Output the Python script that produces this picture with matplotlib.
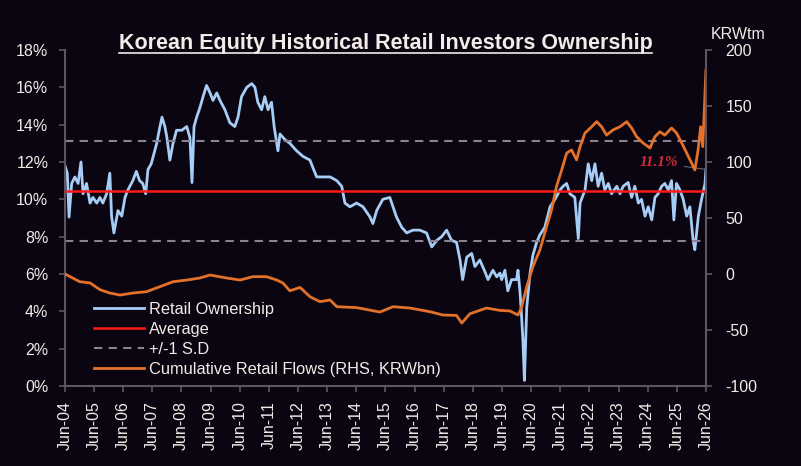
import matplotlib
matplotlib.use('Agg')
import matplotlib.pyplot as plt
from matplotlib.lines import Line2D

# ===== DATA =====
# retail ownership (% of market); x in decimal years
own_x = [2004.50, 2004.58, 2004.64, 2004.73, 2004.84, 2004.95, 2005.05, 2005.12, 2005.24, 2005.36,
         2005.46, 2005.59, 2005.70, 2005.80, 2005.93, 2006.04, 2006.10, 2006.18, 2006.32, 2006.45,
         2006.56, 2006.66, 2006.83, 2006.95, 2007.06, 2007.17, 2007.27, 2007.35, 2007.46, 2007.58,
         2007.65, 2007.76, 2007.83, 2007.93, 2008.00, 2008.10, 2008.21, 2008.33, 2008.51, 2008.68,
         2008.79, 2008.86, 2008.93, 2009.02, 2009.13, 2009.24, 2009.36, 2009.48, 2009.58, 2009.71,
         2009.82, 2009.99, 2010.16, 2010.33, 2010.44, 2010.56, 2010.74, 2010.91, 2011.02, 2011.12,
         2011.25, 2011.36, 2011.47, 2011.59, 2011.68, 2011.77, 2011.81, 2011.88, 2012.05, 2012.22,
         2012.45, 2012.67, 2012.91, 2013.01, 2013.14, 2013.35, 2013.60, 2013.83, 2014.00, 2014.11,
         2014.28, 2014.51, 2014.73, 2014.97, 2015.07, 2015.20, 2015.41, 2015.65, 2015.76, 2015.88,
         2016.06, 2016.23, 2016.44, 2016.68, 2016.91, 2017.09, 2017.26, 2017.43, 2017.60, 2017.77,
         2017.94, 2018.06, 2018.15, 2018.29, 2018.46, 2018.57, 2018.74, 2018.92, 2019.02, 2019.19,
         2019.32, 2019.43, 2019.49, 2019.60, 2019.70, 2019.83, 2020.00, 2020.05, 2020.12, 2020.17,
         2020.22, 2020.27, 2020.35, 2020.46, 2020.56, 2020.69, 2020.80, 2020.97, 2021.15, 2021.32,
         2021.49, 2021.60, 2021.72, 2021.83, 2022.00, 2022.12, 2022.18, 2022.35, 2022.46, 2022.58,
         2022.69, 2022.80, 2022.92, 2023.03, 2023.15, 2023.26, 2023.44, 2023.55, 2023.66, 2023.83,
         2023.95, 2024.06, 2024.18, 2024.29, 2024.41, 2024.52, 2024.64, 2024.75, 2024.86, 2024.98,
         2025.09, 2025.21, 2025.32, 2025.40, 2025.49, 2025.61, 2025.72, 2025.84, 2025.95, 2026.06,
         2026.12, 2026.24, 2026.35, 2026.47, 2026.50]
own_pct = [11.8, 11.4, 9.05, 10.85, 11.2, 10.85, 12.0, 10.3, 10.85, 9.8,
           10.1, 9.8, 10.1, 9.8, 10.3, 11.4, 9.1, 8.2, 9.4, 9.1,
           10.1, 10.5, 11.0, 11.5, 11.0, 10.85, 10.3, 11.6, 11.9, 12.6,
           13.0, 13.9, 14.4, 13.9, 13.3, 12.1, 13.0, 13.7, 13.7, 13.9,
           13.3, 10.9, 13.9, 14.4, 14.9, 15.5, 16.1, 15.7, 15.3, 15.7,
           15.3, 14.8, 14.1, 13.9, 14.4, 15.5, 16.0, 16.2, 16.0, 15.2,
           14.8, 15.5, 14.8, 15.2, 13.9, 13.0, 12.6, 13.5, 13.2, 13.0,
           12.6, 12.3, 12.1, 11.7, 11.2, 11.2, 11.2, 11.0, 10.7, 9.8,
           9.6, 9.8, 9.6, 9.05, 8.7, 9.4, 10.0, 10.1, 9.6, 9.05,
           8.5, 8.2, 8.35, 8.35, 8.2, 7.45, 7.8, 8.0, 8.35, 7.8,
           7.7, 6.75, 5.7, 6.9, 7.1, 6.4, 6.75, 6.1, 5.7, 6.2,
           5.85, 6.05, 5.7, 6.2, 5.1, 5.7, 5.7, 6.2, 5.0, 3.8,
           2.4, 0.3, 4.2, 6.0, 7.0, 7.7, 8.1, 8.5, 9.6, 10.0,
           10.5, 10.7, 10.85, 10.3, 10.1, 7.9, 9.8, 10.5, 11.9, 11.0,
           11.9, 10.7, 11.4, 10.5, 10.85, 10.3, 10.7, 10.3, 10.7, 10.9,
           10.1, 10.7, 9.8, 10.0, 9.1, 9.6, 8.9, 10.1, 10.3, 10.7,
           10.85, 10.5, 11.0, 8.9, 10.85, 10.5, 10.0, 9.1, 9.6, 7.8,
           7.3, 9.1, 10.0, 10.85, 11.6]

avg_pct = 10.45
sd_pct = 2.67

# cumulative retail flows (KRWtm, RHS)
flow_x = [2004.50, 2005.01, 2005.36, 2005.70, 2006.04, 2006.39, 2006.83, 2007.30, 2007.76, 2008.21,
          2008.68, 2009.13, 2009.48, 2010.05, 2010.51, 2010.95, 2011.42, 2011.77, 2011.98, 2012.22,
          2012.57, 2012.91, 2013.25, 2013.60, 2013.83, 2014.51, 2015.31, 2015.76, 2016.34, 2017.03,
          2017.47, 2017.94, 2018.12, 2018.40, 2018.97, 2019.43, 2019.77, 2020.05, 2020.17, 2020.35,
          2020.56, 2020.80, 2021.03, 2021.20, 2021.37, 2021.55, 2021.72, 2021.89, 2022.06, 2022.18,
          2022.35, 2022.58, 2022.75, 2022.92, 2023.09, 2023.31, 2023.55, 2023.78, 2023.95, 2024.12,
          2024.34, 2024.58, 2024.75, 2024.92, 2025.09, 2025.32, 2025.49, 2025.67, 2025.84, 2026.01,
          2026.12, 2026.23, 2026.32, 2026.39, 2026.45, 2026.50]
flow_val = [0, -6.9, -8, -14, -17, -18.8, -17, -15.8, -11.3, -6.9,
            -5.4, -3.6, -0.9, -3.6, -5.4, -2.4, -2.4, -5.4, -8, -15,
            -12, -20.3, -24.7, -23.2, -29.2, -30, -34, -29.2, -30.4, -33.7,
            -36.6, -37, -43.8, -35.5, -30.4, -32.5, -33, -36.6, -30, -11.3,
            6.5, 21.4, 42.2, 57, 78, 92.9, 108, 110.7, 101.8, 113.7,
            125.9, 131.5, 136, 131.5, 124, 128.6, 131.5, 136, 130.4, 122.6,
            117, 112.5, 122.6, 127, 124, 130.4, 125.9, 117, 108, 99,
            92.9, 110.7, 131.5, 113.7, 149.5, 182]

tick_years = list(range(2004, 2027))
tick_labels = ['Jun-%02d' % (y % 100) for y in tick_years]
last_label = '11.1%'
# ===== DATA =====

BG = '#0a0510'
FG = '#f2ebe8'
SPINE = '#5c5662'
plt.rcParams['font.family'] = 'Liberation Sans'

fig = plt.figure(figsize=(8.01, 4.66), dpi=100, facecolor=BG)
ax = fig.add_axes([0.0811, 0.1717, 0.8002, 0.7210], facecolor=BG)
ax2 = ax.twinx()

ax.plot(own_x, own_pct, color='#a6cdf5', lw=2.0, label='Retail Ownership')
ax.axhline(avg_pct, color='#ff1a1a', lw=1.8, label='Average')
ax.axhline(avg_pct + sd_pct, color='#8a8290', lw=1.5, ls=(0, (4, 3)), label='+/-1 S.D')
ax.axhline(avg_pct - sd_pct, color='#8a8290', lw=1.5, ls=(0, (4, 3)))
ax2.plot(flow_x, flow_val, color='#e4712a', lw=2.0, label='Cumulative Retail Flows (RHS, KRWbn)')

ax.set_xlim(2004.5, 2026.5)
ax.set_ylim(0, 18)
ax2.set_ylim(-100, 200)

ax.set_xticks([y + 0.5 for y in tick_years])
ax.set_xticklabels(tick_labels, rotation=90, fontsize=11.5, color=FG)
ax.set_yticks(range(0, 19, 2))
ax.set_yticklabels(['%d%%' % v for v in range(0, 19, 2)], fontsize=11.5, color=FG)
ax2.set_yticks(range(-100, 201, 50))
ax2.set_yticklabels([str(v) for v in range(-100, 201, 50)], fontsize=11.5, color=FG)

for a in (ax, ax2):
    for s in a.spines.values():
        s.set_visible(False)
ax.spines['left'].set_visible(True)
ax.spines['bottom'].set_visible(True)
ax2.spines['right'].set_visible(True)
for s in (ax.spines['left'], ax.spines['bottom'], ax2.spines['right']):
    s.set_color(SPINE)
    s.set_linewidth(1.5)
ax.tick_params(axis='x', colors=SPINE, labelcolor=FG, length=4, width=1.2, pad=7)
ax.tick_params(axis='y', colors=SPINE, labelcolor=FG, length=4, width=1.2, pad=8)
ax2.tick_params(axis='y', colors=SPINE, labelcolor=FG, length=4, width=1.2, pad=10)

# label for the latest ownership reading
ax.annotate(last_label, xy=(own_x[-1], own_pct[-1]), xytext=(2024.9, 11.95),
            ha='center', va='center', color='#d42a3c', fontsize=11,
            fontstyle='italic', fontweight='bold', family='Liberation Serif',
            arrowprops=dict(arrowstyle='-', color='#6a6470', lw=0.8, shrinkA=2, shrinkB=0))

h1, l1 = ax.get_legend_handles_labels()
h2, l2 = ax2.get_legend_handles_labels()
leg = ax2.legend(h1 + h2, l1 + l2, loc='upper left', bbox_to_anchor=(0.046, 0.25),
                 frameon=False, fontsize=11.8, handlelength=3.0, handletextpad=0.35,
                 labelspacing=0.3, borderpad=0, borderaxespad=0)
for t in leg.get_texts():
    t.set_color(FG)

fig.text(0.9215, 0.927, 'KRWtm', ha='center', va='center', color=FG, fontsize=11.5)

title = fig.text(0.4813, 0.895, 'Korean Equity Historical Retail Investors Ownership',
                 ha='center', va='baseline', color=FG, fontsize=15.5, fontweight='bold')
fig.canvas.draw()
bb = title.get_window_extent(fig.canvas.get_renderer()).transformed(fig.transFigure.inverted())
uy = 0.895 - 0.009
fig.add_artist(Line2D([bb.x0, bb.x1], [uy, uy], color=FG, lw=1.2, transform=fig.transFigure))

fig.savefig('out.png', dpi=100, facecolor=BG)
